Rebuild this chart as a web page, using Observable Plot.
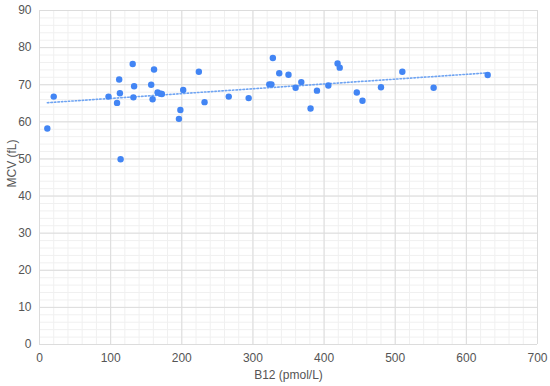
<!DOCTYPE html>
<html>
<head>
<meta charset="utf-8">
<script src="https://cdn.jsdelivr.net/npm/d3@7"></script>
<script src="https://cdn.jsdelivr.net/npm/@observablehq/plot@0.6"></script>
<style>
  html, body { margin: 0; padding: 0; background: #fff; }
  #chart svg { display: block; }
</style>
</head>
<body>
<div id="chart"></div>
<script>
// B12 (pmol/L) values
const b12 = [11, 20, 97, 109, 112, 113, 114, 131, 133, 132, 157, 161, 159, 166, 170, 172,
  196, 198, 202, 224, 232, 266, 294, 323, 326, 328, 337, 350, 360, 368, 381, 390, 406,
  419, 422, 446, 454, 480, 510, 554, 630];
// MCV (fL) values
const mcv = [58.2, 66.8, 66.8, 65.1, 71.4, 67.7, 49.9, 75.6, 69.6, 66.6, 70.0, 74.1, 66.1, 67.9, 67.6, 67.5,
  60.8, 63.2, 68.6, 73.5, 65.3, 66.8, 66.4, 70.1, 70.1, 77.2, 73.1, 72.7, 69.2, 70.7, 63.6, 68.4, 69.8,
  75.7, 74.6, 67.9, 65.7, 69.3, 73.5, 69.2, 72.6];
const xTicks = [0, 100, 200, 300, 400, 500, 600, 700];
const yTicks = [0, 10, 20, 30, 40, 50, 60, 70, 80, 90];
const xMinor = d3.range(0, 701, 20);
const yMinor = d3.range(0, 91, 2);
const xLabel = "B12 (pmol/L)";
const yLabel = "MCV (fL)";

const data = b12.map((b, i) => ({b12: b, mcv: mcv[i]}));

const chart = Plot.plot({
  width: 550,
  height: 386,
  marginLeft: 39,
  marginRight: 13,
  marginTop: 10,
  marginBottom: 42,
  style: {fontFamily: "'Liberation Sans', Arial, sans-serif", fontSize: "12px", color: "#555", background: "#fff"},
  x: {domain: [0, 700]},
  y: {domain: [0, 90]},
  marks: [
    Plot.gridX(xMinor, {stroke: "#f0f0f0", strokeOpacity: 1}),
    Plot.gridY(yMinor, {stroke: "#f0f0f0", strokeOpacity: 1}),
    Plot.gridX(xTicks, {stroke: "#dcdcdc", strokeOpacity: 1}),
    Plot.gridY(yTicks, {stroke: "#dcdcdc", strokeOpacity: 1}),
    Plot.axisX({ticks: xTicks, tickSize: 0, tickPadding: 9, fill: "#555",
      label: xLabel, labelAnchor: "center", labelArrow: "none", labelOffset: 34}),
    Plot.axisY({ticks: yTicks, tickSize: 0, tickPadding: 8, fill: "#555", label: null}),
    Plot.text([yLabel], {text: d => d, frameAnchor: "left", dx: -27, dy: 10, rotate: -90,
      fill: "#555", fontSize: 12}),
    Plot.linearRegressionY(data, {x: "b12", y: "mcv", ci: 0, stroke: "#6fa4f2",
      strokeWidth: 1.6, strokeDasharray: "1.5,2"}),
    Plot.dot(data, {x: "b12", y: "mcv", r: 3.2, fill: "#4285f4", stroke: "none"})
  ]
});
document.getElementById("chart").appendChild(chart);
</script>
</body>
</html>
